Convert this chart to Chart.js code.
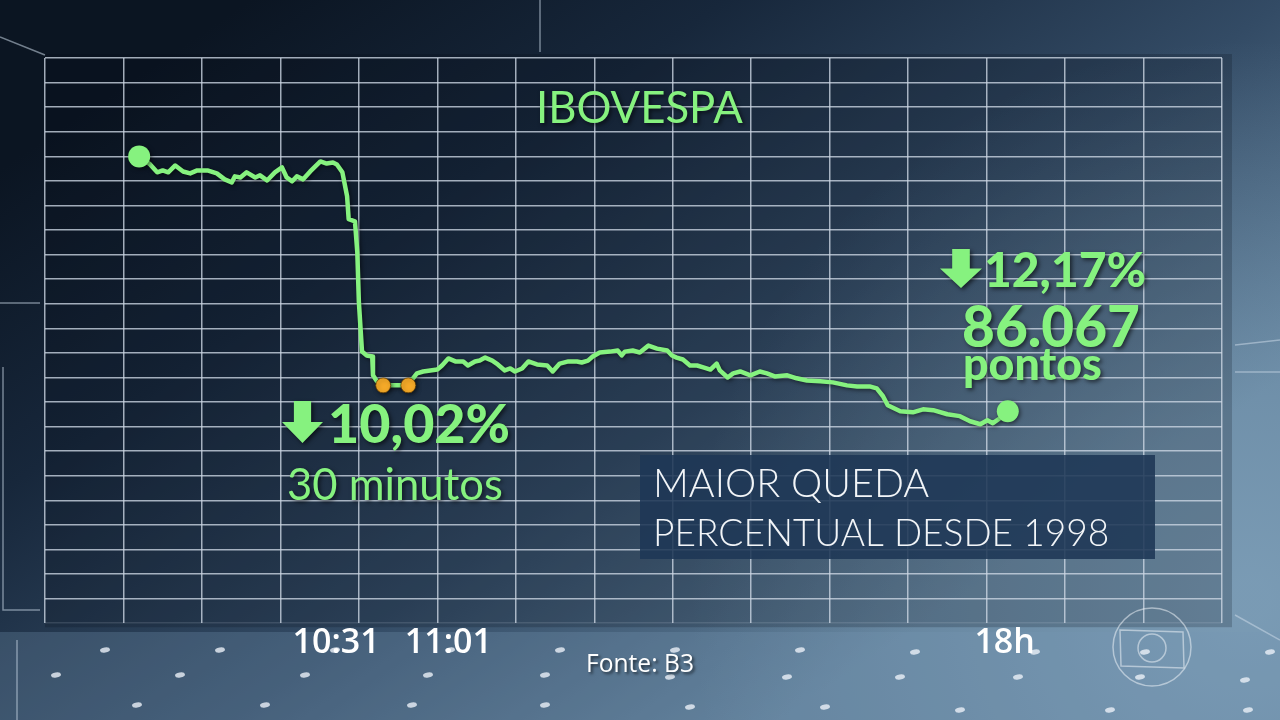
<!DOCTYPE html>
<html>
<head>
<meta charset="utf-8">
<script src="https://cdn.jsdelivr.net/npm/chart.js@4/dist/chart.umd.min.js"></script>
<style>
  html, body { margin: 0; padding: 0; background: #0c1826; }
  #wrap { width: 1280px; height: 720px; position: relative; }
</style>
</head>
<body>
<div id="wrap"><canvas id="ibovespaChart"></canvas></div>
<script>
// Ibovespa, 9 de março de 2020 - lidos da arte
// posição no eixo do tempo (10 unidades por coluna da grade)
const tempo = [
  12.0, 13.4, 14.3, 15.0, 15.7, 16.6, 17.6, 18.5, 19.4, 20.7,
  21.9, 22.9, 23.8, 24.2, 24.9, 25.7, 26.8, 27.4, 28.3, 29.3,
  30.2, 30.8, 31.5, 32.1, 32.9, 33.8, 35.1, 35.9, 36.7, 37.2,
  37.9, 38.5, 38.7, 39.5, 39.8, 40.0, 40.4, 41.0, 41.7, 41.8,
  42.3, 43.1, 46.3,
  46.8, 47.4, 48.2, 49.1, 50.0, 50.6, 51.4, 52.3, 53.3, 53.9,
  54.8, 55.4, 56.1, 57.0, 57.7, 58.6, 59.3, 59.9, 60.8, 61.6,
  62.7, 64.0, 64.7, 65.6, 66.7, 67.8, 68.4, 69.2, 69.8, 70.7,
  72.0, 73.0, 73.5, 73.9, 74.9, 75.8, 76.9, 78.0, 79.3, 79.9,
  80.5, 81.3, 82.2, 83.1, 83.9, 84.8, 85.6, 86.0, 87.0, 87.7,
  88.6, 89.9, 91.1, 92.0, 93.0, 94.6, 95.8, 97.1, 98.8, 100.4,
  102.2, 103.5, 105.1, 106.0, 106.8, 107.4, 109.0, 110.6, 111.9, 113.2,
  115.0, 116.6, 117.9, 119.2, 120.1, 120.8, 121.7, 122.7
];
const pontos = [
  97996, 97620, 97250, 97340, 97250, 97570, 97290, 97200, 97340, 97340,
  97200, 96920, 96780, 97060, 97010, 97250, 97010, 97110, 96870, 97250,
  97480, 97010, 96830, 97060, 96920, 97290, 97760, 97660, 97710, 97620,
  97250, 96130, 95060, 94960, 93520, 91190, 88860, 88680, 88630, 87750,
  87470, 87280, 87280,
  87560, 87840, 87930, 87980, 88020, 88210, 88540, 88400, 88400, 88210,
  88400, 88440, 88580, 88440, 88260, 87980, 88070, 87930, 88070, 88400,
  88260, 88210, 87930, 88300, 88400, 88400, 88350, 88440, 88630, 88820,
  88860, 88910, 88680, 88860, 88910, 88820, 89140, 89000, 88910, 88680,
  88580, 88490, 88210, 88210, 88120, 88020, 88300, 87980, 87650, 87840,
  87930, 87750, 87930, 87840, 87700, 87750, 87610, 87510, 87470, 87420,
  87280, 87230, 87230, 87140, 86770, 86350, 86070, 86020, 86160, 86120,
  85930, 85840, 85600, 85460, 85650, 85510, 85740, 86067
];
// circuit breaker: 10:31 a 11:01
const pausaTempo = [43.1, 46.3];
const pausaPontos = [87280, 87280];
// rótulos de hora no eixo
const horaPos = [37.1, 51.4, 122.3];
const horaTxt = ['10:31', '11:01', '18h'];

const X_MIN = 0, X_MAX = 150, X_STEP = 10;
const Y_MIN = 76150, Y_MAX = 102600, Y_STEP = 1150;

const VERDE = '#86f27f';

function steps(min, max, step) {
  const out = [];
  for (let v = min; v <= max + 1e-6; v += step) out.push({ value: v });
  return out;
}

function fitText(ctx, text, x, y, w, weight, family, size, align) {
  ctx.font = weight + ' ' + size + 'px ' + family;
  const m = ctx.measureText(text).width;
  const s = size * w / m;
  ctx.font = weight + ' ' + s.toFixed(1) + 'px ' + family;
  ctx.textAlign = align || 'left';
  ctx.fillText(text, x, y);
}

function arrow(ctx, x, y, w, h) {
  const shaft = w * 0.42;
  const headH = h * 0.5;
  ctx.beginPath();
  ctx.moveTo(x + (w - shaft) / 2, y);
  ctx.lineTo(x + (w + shaft) / 2, y);
  ctx.lineTo(x + (w + shaft) / 2, y + h - headH);
  ctx.lineTo(x + w, y + h - headH);
  ctx.lineTo(x + w / 2, y + h);
  ctx.lineTo(x, y + h - headH);
  ctx.lineTo(x + (w - shaft) / 2, y + h - headH);
  ctx.closePath();
  ctx.fill();
}

const fundo = {
  id: 'fundo',
  beforeDraw(chart) {
    const ctx = chart.ctx;
    const W = chart.width, H = chart.height;
    ctx.save();
    const g = ctx.createLinearGradient(250, 0, 750, 740);
    g.addColorStop(0, '#0b1522');
    g.addColorStop(0.3, '#17273b');
    g.addColorStop(0.65, '#334b65');
    g.addColorStop(1, '#5d7c96');
    ctx.fillStyle = g;
    ctx.fillRect(0, 0, W, H);
    // brilho à direita
    const r = ctx.createRadialGradient(1250, 600, 20, 1250, 600, 560);
    r.addColorStop(0, 'rgba(150,185,210,0.5)');
    r.addColorStop(1, 'rgba(150,185,210,0)');
    ctx.fillStyle = r;
    ctx.fillRect(0, 0, W, H);
    // chão mais claro abaixo do painel
    ctx.fillStyle = 'rgba(120,150,180,0.28)';
    ctx.fillRect(0, 632, W, H - 632);
    // painel
    const a = chart.chartArea;
    ctx.fillStyle = 'rgba(4,10,20,0.2)';
    ctx.fillRect(a.left, a.top - 4, a.right - a.left + 10, a.bottom - a.top + 8);
    // linhas decorativas
    ctx.strokeStyle = 'rgba(200,215,230,0.55)';
    ctx.lineWidth = 1.5;
    ctx.beginPath();
    ctx.moveTo(540, 0); ctx.lineTo(540, 52);
    ctx.moveTo(0, 37); ctx.lineTo(45, 55);
    ctx.moveTo(0, 303); ctx.lineTo(40, 303);
    ctx.moveTo(3, 367); ctx.lineTo(3, 610); ctx.lineTo(40, 610);
    ctx.moveTo(17, 640); ctx.lineTo(17, 720);
    ctx.moveTo(1235, 345); ctx.lineTo(1280, 340);
    ctx.moveTo(1235, 372); ctx.lineTo(1280, 372);
    ctx.moveTo(1235, 615); ctx.lineTo(1280, 640);
    ctx.stroke();
    // pontos no chão
    ctx.fillStyle = 'rgba(235,240,248,0.8)';
    const pts = [[105,650],[220,650],[335,650],[450,650],[560,650],[675,650],[800,650],[915,652],[1035,652],[1145,652],[1270,652],
                 [56,675],[180,675],[305,675],[428,675],[545,675],[670,677],[787,677],[900,677],[1018,677],[1140,677],[1245,680],
                 [137,705],[265,705],[412,705],[545,705],[690,707],[825,707],[960,710],[1110,710],[1248,710]];
    for (const [px, py] of pts) {
      ctx.beginPath();
      ctx.ellipse(px, py, 5, 2.5, -0.15, 0, Math.PI * 2);
      ctx.fill();
    }
    ctx.restore();
  },
  beforeDatasetsDraw(chart) {
    const ctx = chart.ctx;
    ctx.save();
    ctx.shadowColor = 'rgba(0,0,0,0.55)';
    ctx.shadowBlur = 4;
    ctx.shadowOffsetX = 1.5;
    ctx.shadowOffsetY = 1.5;
  },
  afterDatasetsDraw(chart) {
    chart.ctx.restore();
  },
  afterDraw(chart) {
    const ctx = chart.ctx;
    ctx.save();
    ctx.textBaseline = 'alphabetic';
    ctx.shadowColor = 'rgba(0,0,0,0.6)';
    ctx.shadowBlur = 4;
    ctx.shadowOffsetX = 2;
    ctx.shadowOffsetY = 2;
    ctx.fillStyle = VERDE;
    fitText(ctx, 'IBOVESPA', 536, 123, 207, '400', 'Lato', 36);
    arrow(ctx, 282, 401, 41, 42);
    fitText(ctx, '10,02%', 328, 443, 182, '900', 'Lato', 56);
    fitText(ctx, '30 minutos', 287, 500, 216, '400', 'Lato', 40);
    arrow(ctx, 940, 249, 42, 39);
    fitText(ctx, '12,17%', 984, 287, 162, '900', 'Lato', 54);
    fitText(ctx, '86.067', 962, 347, 178, '900', 'Lato', 50);
    fitText(ctx, 'pontos', 963, 380, 139, '900', 'Lato', 36);

    // caixa
    ctx.shadowColor = 'transparent';
    ctx.fillStyle = 'rgba(30,55,85,0.88)';
    ctx.fillRect(640, 455, 515, 104);
    ctx.fillStyle = '#f2f5f8';
    fitText(ctx, 'MAIOR QUEDA', 653, 497, 276, '300', 'Lato', 35);
    fitText(ctx, 'PERCENTUAL DESDE 1998', 653, 546, 457, '300', 'Lato', 35);

    ctx.shadowColor = 'rgba(0,0,0,0.6)';
    ctx.shadowBlur = 3;
    ctx.fillStyle = '#ffffff';
    fitText(ctx, 'Fonte: B3', 586, 672, 108, '400', 'Open Sans', 21);

    // logo
    ctx.shadowColor = 'transparent';
    ctx.strokeStyle = 'rgba(235,240,245,0.55)';
    ctx.lineWidth = 1.5;
    ctx.beginPath();
    ctx.arc(1152, 647, 39, 0, Math.PI * 2);
    ctx.stroke();
    ctx.beginPath();
    ctx.moveTo(1120, 630); ctx.lineTo(1183, 632); ctx.lineTo(1184, 668); ctx.lineTo(1121, 666); ctx.closePath();
    ctx.stroke();
    ctx.beginPath();
    ctx.arc(1152, 648, 14, 0, Math.PI * 2);
    ctx.stroke();
    ctx.restore();
  }
};

const ultimo = pontos.length - 1;

new Chart(document.getElementById('ibovespaChart').getContext('2d'), {
  type: 'line',
  data: {
    datasets: [{
      label: 'Ibovespa',
      data: tempo.map((t, i) => ({ x: t, y: pontos[i] })),
      borderColor: VERDE,
      borderWidth: 4.5,
      borderJoinStyle: 'round',
      tension: 0,
      pointRadius: ctx => (ctx.dataIndex === 0 || ctx.dataIndex === ultimo) ? 11 : 0,
      pointBackgroundColor: VERDE,
      pointBorderWidth: 0,
      order: 2
    }, {
      label: 'Circuit breaker',
      data: pausaTempo.map((t, i) => ({ x: t, y: pausaPontos[i] })),
      showLine: false,
      pointRadius: 7.5,
      pointBackgroundColor: '#f4a928',
      pointBorderColor: 'rgba(90,55,0,0.7)',
      pointBorderWidth: 1,
      order: 1
    }]
  },
  options: {
    responsive: true,
    maintainAspectRatio: false,
    animation: false,
    clip: false,
    layout: { padding: { left: 45, top: 58, right: 58, bottom: 56 } },
    plugins: { legend: { display: false }, tooltip: { enabled: false } },
    scales: {
      x: {
        type: 'linear', min: X_MIN, max: X_MAX,
        afterBuildTicks: s => { s.ticks = steps(X_MIN, X_MAX, X_STEP); },
        grid: { color: 'rgba(205,215,228,0.78)', lineWidth: 1.5, drawTicks: false },
        border: { display: false },
        ticks: { display: false }
      },
      hora: {
        type: 'linear', position: 'bottom', min: X_MIN, max: X_MAX,
        afterBuildTicks: s => { s.ticks = horaPos.map(v => ({ value: v })); },
        grid: { display: false, drawTicks: false },
        border: { display: false },
        ticks: {
          autoSkip: false, maxRotation: 0, padding: 0,
          color: '#ffffff',
          font: { family: 'Open Sans', weight: '600', size: 34 },
          callback: (v, i) => horaTxt[i]
        }
      },
      y: {
        type: 'linear', min: Y_MIN, max: Y_MAX,
        afterBuildTicks: s => { s.ticks = steps(Y_MIN, Y_MAX, Y_STEP); },
        grid: {
          color: c => c.tick && Math.abs(c.tick.value - Y_MIN) < 1 ? 'rgba(205,215,228,0.15)' : 'rgba(205,215,228,0.78)',
          lineWidth: 1.5, drawTicks: false
        },
        border: { display: false },
        ticks: { display: false }
      }
    }
  },
  plugins: [fundo]
});
</script>
</body>
</html>
